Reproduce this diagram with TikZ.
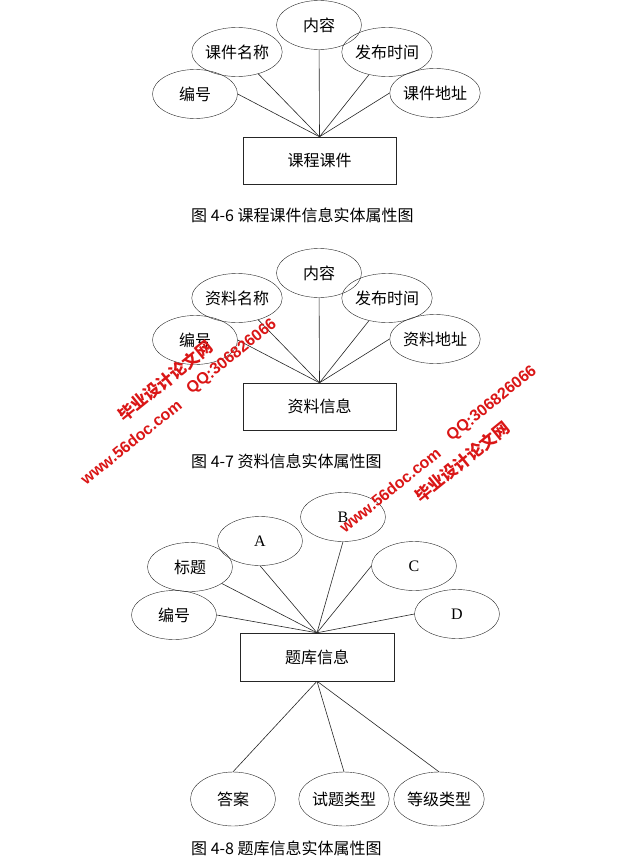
\documentclass[tikz,border=0pt]{standalone}
\usepackage{fontspec}
\setmainfont{Liberation Serif}
\newfontfamily\cjk{Noto Sans CJK SC}
\newfontfamily\wmfont{Liberation Sans}
\usetikzlibrary{shapes.geometric}
\definecolor{wmred}{RGB}{218,22,22}

\begin{document}
\begin{tikzpicture}[x=1pt,y=-1pt,
    attr/.style={draw=black!85,ellipse,minimum width=85pt,minimum height=49pt,inner sep=0pt,font=\cjk\fontsize{16}{16}\selectfont},
    entity/.style={draw=black!85,rectangle,minimum width=153pt,minimum height=47pt,inner sep=0pt,font=\cjk\fontsize{16}{16}\selectfont},
    figcap/.style={anchor=west,inner sep=0pt,font=\cjk\fontsize{16}{16}\selectfont},
    wm/.style={rotate=39,text=wmred,inner sep=0pt,font=\wmfont\bfseries\fontsize{16}{16}\selectfont},
    every edge/.style={draw=black!85,line width=0.6pt}]
  \useasboundingbox (0,0) rectangle (633,867);

  % 课程课件
  \node[attr] (bh1) at (195,94) {编号};
  \node[attr] (mc1) at (237,52) {课件名称};
  \node[attr] (nr1) at (319,25) {内容};
  \node[attr] (sj1) at (387,52) {发布时间};
  \node[attr] (dz1) at (435,93) {课件地址};
  \node[entity] (kj) at (319.5,160.5) {课程课件};
  \node[figcap] (cap1) at (191,215) {图 4-6 课程课件信息实体属性图};
  \draw (kj.north) edge (bh1.east) edge (mc1) edge (nr1) edge (sj1) edge (dz1.west);

  % 资料信息
  \node[attr] (bh2) at (195,340) {编号};
  \node[attr] (mc2) at (237,298) {资料名称};
  \node[attr] (nr2) at (319,273) {内容};
  \node[attr] (sj2) at (387,298) {发布时间};
  \node[attr] (dz2) at (435,339) {资料地址};
  \node[entity] (zl) at (319.5,406.5) {资料信息};
  \node[figcap] (cap2) at (191,461) {图 4-7 资料信息实体属性图};
  \draw (zl.north) edge (bh2.east) edge (mc2) edge (nr2) edge (sj2) edge (dz2.west);

  % 题库信息
  \node[attr] (bh3) at (174,615) {编号};
  \node[attr] (bt3) at (190,567) {标题};
  \node[attr] (xa) at (260,541) {\rmfamily A};
  \node[attr] (xb) at (343,517) {\rmfamily B};
  \node[attr] (xc) at (414,566) {\rmfamily C};
  \node[attr] (xd) at (457,614) {\rmfamily D};
  \node[entity,minimum width=154pt,minimum height=48pt] (tk) at (317,657) {题库信息};
  \node[attr,minimum height=54pt] (da) at (233,799) {答案};
  \node[attr,minimum height=54pt] (lx) at (344,799) {试题类型};
  \node[attr,minimum height=54pt] (dj) at (439,799) {等级类型};
  \node[figcap] (cap3) at (191,848) {图 4-8 题库信息实体属性图};
  \draw (tk.north) edge (bh3.east) edge (bt3) edge (xa.south) edge (xb.south) edge (xc.west) edge (xd.west);
  \draw (tk.south) edge (da.north) edge (lx.north) edge (dj.north);

  % 水印
  \node[wm] (www1) at (131,442) {www.56doc.com};
  \node[wm] (qq1) at (232,357) {QQ:306826066};
  \node[wm,font=\cjk\bfseries\fontsize{16.5}{16.5}\selectfont] (net1) at (165,381) {毕业设计论文网};
  \node[wm] (www2) at (390,490) {www.56doc.com};
  \node[wm] (qq2) at (492,404) {QQ:306826066};
  \node[wm,font=\cjk\bfseries\fontsize{16.5}{16.5}\selectfont] (net2) at (462,462) {毕业设计论文网};
\end{tikzpicture}
\end{document}
